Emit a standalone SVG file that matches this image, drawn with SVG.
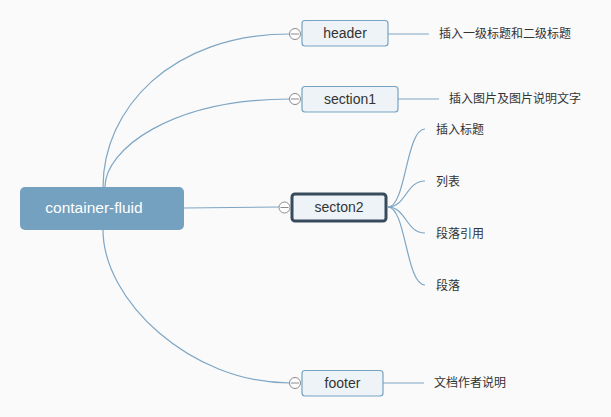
<svg xmlns="http://www.w3.org/2000/svg" width="611" height="417" viewBox="0 0 611 417">
<style>
.bg{fill:#fafafa}
.link{fill:none;stroke:#7ea6c4;stroke-width:1.2}
.box{fill:#eef3f7;stroke:#76a3c2;stroke-width:1.2}
.sel{fill:#eef3f7;stroke:#374b5d;stroke-width:3}
.ntext{font-family:"Liberation Sans",Arial,sans-serif;font-size:14px;fill:#333;text-anchor:middle}
.ltext{font-family:"Liberation Sans","Noto Sans CJK SC",sans-serif;font-size:12px;fill:#333}
.tog circle{fill:#fff;stroke:#8a8a8a;stroke-width:1}
.tog line{stroke:#8a8a8a;stroke-width:1}
</style>
<rect class="bg" x="0" y="0" width="611" height="417"/>
<g id="connectors">
<path class="link" d="M103,187 C103,110 170,34 290,34"/>
<path class="link" d="M105,187 C105,150 170,99 290,99"/>
<path class="link" d="M184,208 L279,207"/>
<path class="link" d="M103,230 C103,300 190,383 290,383"/>
<path class="link" d="M388,34 L429,34"/>
<path class="link" d="M398,99 L439,99"/>
<path class="link" d="M383,383 L424,383"/>
<path class="link" d="M388,207 C406,207 406,129 425,129"/>
<path class="link" d="M388,207 C406,207 406,181 425,181"/>
<path class="link" d="M388,207 C406,207 406,233 425,233"/>
<path class="link" d="M388,207 C406,207 406,285 425,285"/>
</g>
<g id="root">
<rect x="20" y="187" width="164" height="43" rx="5" fill="#73a1bf"/>
<text x="94" y="213" font-family="Liberation Sans,Arial,sans-serif" font-size="15.5" fill="#fff" text-anchor="middle">container-fluid</text>
</g>
<g id="header">
<rect class="box" x="302" y="20.5" width="86" height="25.5" rx="3"/>
<text class="ntext" x="345" y="38">header</text>
<g class="tog"><circle cx="295" cy="34" r="5.5"/><line x1="291" y1="34" x2="299" y2="34"/></g>
</g>
<g id="header-label"><text class="ltext" x="439" y="38">插入一级标题和二级标题</text></g>
<g id="section1">
<rect class="box" x="302" y="86.5" width="96" height="25.5" rx="3"/>
<text class="ntext" x="350" y="104">section1</text>
<g class="tog"><circle cx="295" cy="99" r="5.5"/><line x1="291" y1="99" x2="299" y2="99"/></g>
</g>
<g id="section1-label"><text class="ltext" x="449" y="103">插入图片及图片说明文字</text></g>
<g id="secton2">
<rect class="sel" x="292" y="194" width="94" height="27" rx="3"/>
<text class="ntext" x="339" y="212">secton2</text>
<g class="tog"><circle cx="284.5" cy="207.5" r="5.5"/><line x1="280.5" y1="207.5" x2="288.5" y2="207.5"/></g>
</g>
<g id="s2-c1"><text class="ltext" x="436" y="134">插入标题</text></g>
<g id="s2-c2"><text class="ltext" x="436" y="186">列表</text></g>
<g id="s2-c3"><text class="ltext" x="436" y="238">段落引用</text></g>
<g id="s2-c4"><text class="ltext" x="436" y="290">段落</text></g>
<g id="footer">
<rect class="box" x="302" y="370.5" width="81" height="25.5" rx="3"/>
<text class="ntext" x="342.5" y="388">footer</text>
<g class="tog"><circle cx="295" cy="383" r="5.5"/><line x1="291" y1="383" x2="299" y2="383"/></g>
</g>
<g id="footer-label"><text class="ltext" x="434" y="387">文档作者说明</text></g>
</svg>
